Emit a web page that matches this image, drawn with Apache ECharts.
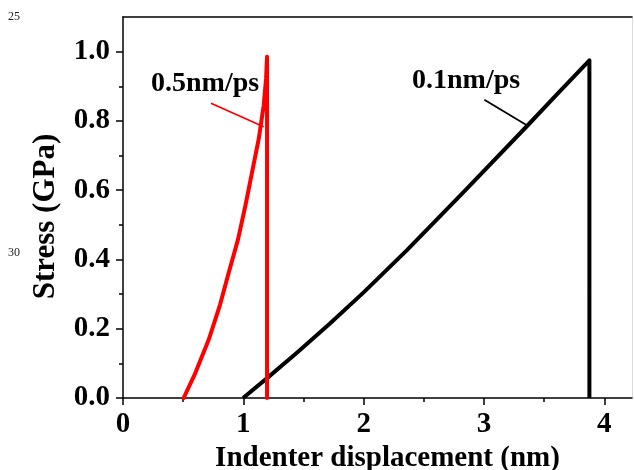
<!DOCTYPE html>
<html lang="en">
<head>
<meta charset="utf-8">
<title>Stress vs indenter displacement</title>
<script src="https://cdn.jsdelivr.net/npm/echarts@6/dist/echarts.min.js"></script>
<style>
  html, body { margin: 0; padding: 0; background: #fff; }
  #chart { width: 634px; height: 470px; }
</style>
</head>
<body>
<div id="chart"></div>
<script>
// 0.1 nm/ps curve: displacement (nm), stress (GPa)
var slowX = [0.998, 1.2, 1.45, 1.72, 2.0, 2.36, 2.84, 3.36, 3.61, 3.876, 3.876];
var slowY = [0, 0.058, 0.132, 0.215, 0.305, 0.427, 0.598, 0.786, 0.878, 0.975, 0];
// 0.5 nm/ps curve
var fastX = [0.504, 0.601, 0.712, 0.803, 0.878, 0.956, 1.017, 1.072, 1.128, 1.169, 1.189, 1.197, 1.197];
var fastY = [0, 0.072, 0.168, 0.265, 0.361, 0.458, 0.555, 0.651, 0.748, 0.844, 0.922, 0.985, 0];
// leader lines from the labels to the curves
var slowLeaderX = [3.003, 3.363];
var slowLeaderY = [0.861, 0.786];
var fastLeaderX = [0.731, 1.169];
var fastLeaderY = [0.851, 0.783];
// tick values
var xTicks = [0, 1, 2, 3, 4];
var yTicks = [0, 0.2, 0.4, 0.6, 0.8, 1.0];

var serif = '"Liberation Serif", "Times New Roman", serif';

function pairs(xs, ys) {
  var out = [];
  for (var i = 0; i < xs.length; i++) {
    out.push([xs[i], ys[i]]);
  }
  return out;
}

var myChart = echarts.init(document.getElementById('chart'));

var option = {
  animation: false,
  backgroundColor: '#fff',
  grid: { left: 123, right: 2, top: 17, bottom: 72, outerBoundsMode: 'none', containLabel: false },
  xAxis: [{
    type: 'value',
    min: 0, max: 4.23, interval: 1,
    name: 'Indenter displacement (nm)',
    nameLocation: 'middle',
    nameGap: 38,
    nameTextStyle: { fontFamily: serif, fontWeight: 'bold', fontSize: 29, color: '#000', padding: [0, 0, 0, 20] },
    axisLine: { onZero: false, lineStyle: { color: '#000', width: 1.5 } },
    axisTick: { inside: false, length: 7, customValues: xTicks, lineStyle: { color: '#000', width: 1.5 } },
    minorTick: { show: true, splitNumber: 2, length: 4, lineStyle: { color: '#000', width: 1.5 } },
    axisLabel: { customValues: xTicks, margin: 12, fontFamily: serif, fontWeight: 'bold', fontSize: 29, color: '#000' },
    splitLine: { show: false }
  }, {
    type: 'value', position: 'top', min: 0, max: 4.23,
    axisLine: { show: true, onZero: false, lineStyle: { color: '#000', width: 1.5 } },
    axisTick: { show: false }, axisLabel: { show: false }, splitLine: { show: false }
  }],
  yAxis: [{
    type: 'value',
    min: 0, max: 1.1, interval: 0.2,
    name: 'Stress (GPa)',
    nameLocation: 'middle',
    nameRotate: 90,
    nameGap: 62,
    nameTextStyle: { fontFamily: serif, fontWeight: 'bold', fontSize: 31, color: '#000', padding: [0, 18, 0, 0] },
    axisLine: { show: true, onZero: false, lineStyle: { color: '#000', width: 1.5 } },
    axisTick: { show: true, inside: false, length: 7, customValues: yTicks, lineStyle: { color: '#000', width: 1.5 } },
    minorTick: { show: true, splitNumber: 2, length: 4, lineStyle: { color: '#000', width: 1.5 } },
    axisLabel: {
      customValues: yTicks, margin: 13, fontFamily: serif, fontWeight: 'bold', fontSize: 29, color: '#000',
      formatter: function (v) { return v.toFixed(1); }
    },
    splitLine: { show: false }
  }, {
    type: 'value', position: 'right', min: 0, max: 1.1,
    axisLine: { show: true, onZero: false, lineStyle: { color: '#dcdcdc', width: 1 } },
    axisTick: { show: false }, axisLabel: { show: false }, splitLine: { show: false }
  }],
  series: [
    {
      name: '0.5nm/ps', type: 'line', data: pairs(fastX, fastY),
      showSymbol: false, symbol: 'none',
      lineStyle: { color: '#ff0000', width: 4, join: 'round', cap: 'round' }, z: 3
    },
    {
      name: '0.1nm/ps', type: 'line', data: pairs(slowX, slowY),
      showSymbol: false, symbol: 'none',
      lineStyle: { color: '#000', width: 4, join: 'round', cap: 'butt' }, z: 2
    },
    {
      type: 'line', data: pairs(fastLeaderX, fastLeaderY), symbol: 'none',
      lineStyle: { color: '#ff0000', width: 1.8 }, silent: true
    },
    {
      type: 'line', data: pairs(slowLeaderX, slowLeaderY), symbol: 'none',
      lineStyle: { color: '#000', width: 1.8 }, silent: true
    }
  ],
  graphic: [
    { type: 'text', left: 151, top: 70, style: { text: '0.5nm/ps', font: 'bold 28px ' + serif, fill: '#000' } },
    { type: 'text', left: 412, top: 67, style: { text: '0.1nm/ps', font: 'bold 28px ' + serif, fill: '#000' } },
    { type: 'text', left: 8, top: 11, style: { text: '25', font: '12px ' + serif, fill: '#222' } },
    { type: 'text', left: 8, top: 247, style: { text: '30', font: '12px ' + serif, fill: '#222' } }
  ]
};

myChart.setOption(option);
</script>
</body>
</html>
